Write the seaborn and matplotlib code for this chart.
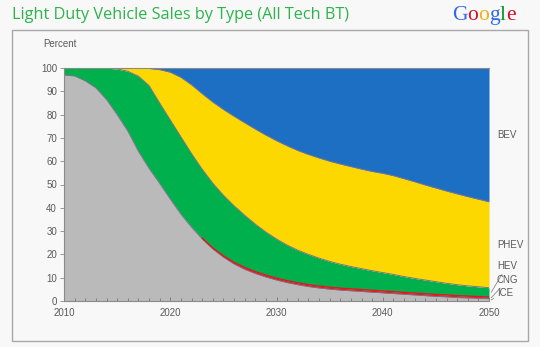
import numpy as np
import pandas as pd
import matplotlib
matplotlib.use("Agg")
import matplotlib.pyplot as plt
import seaborn as sns

# Light duty vehicle sales share by technology type, percent of sales
years = list(range(2010, 2051))
ice = [97.0, 96.6, 94.5, 91.5, 86.5, 80.0, 73.0, 64.3, 57.0, 50.5,
       43.8, 37.3, 31.7, 26.7, 22.35, 18.8, 15.9, 13.6, 11.8, 10.3,
       9.0, 7.9, 7.0, 6.2, 5.6, 5.1, 4.7, 4.4, 4.1, 3.8,
       3.5, 3.2, 2.9, 2.6, 2.3, 2.0, 1.8, 1.5, 1.35, 1.2, 1.0]
cng = [0.0, 0.0, 0.0, 0.0, 0.0, 0.0, 0.0, 0.0, 0.0, 0.0,
       0.0, 0.1, 0.2, 0.3, 0.45, 0.6, 0.7, 0.8, 0.8, 0.8,
       0.8, 0.8, 0.8, 0.8, 0.8, 0.8, 0.8, 0.8, 0.8, 0.8,
       0.8, 0.8, 0.8, 0.8, 0.8, 0.8, 0.8, 0.8, 0.75, 0.7, 0.7]
hev = [3.0, 3.4, 5.5, 8.5, 13.4, 19.6, 25.6, 32.2, 35.5, 34.5,
       33.9, 33.1, 31.4, 29.6, 27.8, 26.0, 24.3, 22.4, 20.4, 18.5,
       16.8, 15.3, 14.0, 13.0, 12.0, 11.1, 10.3, 9.6, 9.0, 8.4,
       7.9, 7.4, 6.8, 6.3, 5.9, 5.5, 5.0, 4.7, 4.4, 4.2, 4.0]
phev = [0.0, 0.0, 0.0, 0.0, 0.1, 0.4, 1.4, 3.5, 7.3, 14.3,
        20.5, 25.5, 29.5, 32.4, 34.8, 36.8, 38.4, 39.7, 40.8, 41.6,
        42.2, 42.6, 42.8, 42.9, 43.0, 43.0, 43.0, 42.9, 42.7, 42.6,
        42.6, 42.4, 42.0, 41.5, 40.8, 40.2, 39.6, 39.0, 38.3, 37.6, 36.9]
bev = [0.0, 0.0, 0.0, 0.0, 0.0, 0.0, 0.0, 0.0, 0.2, 0.7,
       1.8, 4.0, 7.2, 11.0, 14.6, 17.8, 20.7, 23.5, 26.2, 28.8,
       31.2, 33.4, 35.4, 37.1, 38.6, 40.0, 41.2, 42.3, 43.4, 44.4,
       45.2, 46.2, 47.5, 48.8, 50.2, 51.5, 52.8, 54.0, 55.2, 56.3, 57.4]

types = ["ICE", "CNG", "HEV", "PHEV", "BEV"]
colors = ["#bababa", "#e8141c", "#00b04c", "#fdd800", "#1d6fc4"]
x_ticks = [2010, 2020, 2030, 2040, 2050]
y_ticks = list(range(0, 101, 10))

df = pd.DataFrame({"year": years, "ICE": ice, "CNG": cng, "HEV": hev,
                   "PHEV": phev, "BEV": bev})

sns.set_theme(style="ticks")
plt.rcParams["font.family"] = ["Liberation Sans", "DejaVu Sans"]

BG = "#f8f8f8"
TXT = "#5a5a5a"
fig = plt.figure(figsize=(5.40, 3.47), dpi=100, facecolor=BG)
W, H = 540.0, 347.0

# outer panel frame
frame = plt.Rectangle((12 / W, 1 - 341 / H), 516 / W, 311 / H,
                      transform=fig.transFigure, facecolor="none",
                      edgecolor="#a8a8a8", linewidth=1.0, zorder=-1)
fig.patches.append(frame)

ax = fig.add_axes([64 / W, 1 - 301 / H, 425 / W, 233 / H])
ax.set_zorder(2)
ax.set_facecolor("none")
ax.set_axisbelow(False)

ax.stackplot(df["year"], [df[t] for t in types], colors=colors,
             linewidth=0, zorder=2)

# thin grey strokes along the band boundaries
cum = df[types].cumsum(axis=1)
for col in ["ICE", "HEV", "PHEV"]:
    sns.lineplot(x=df["year"], y=cum[col], ax=ax, color="#75758a",
                 linewidth=0.7, zorder=3)
cng_top = cum["CNG"].where(df["CNG"] >= 0.3)
sns.lineplot(x=df["year"], y=cng_top, ax=ax, color=colors[1],
             linewidth=1.0, zorder=4)

ax.set_xlim(2010, 2050)
ax.set_ylim(0, 100)
ax.set_xlabel("")
ax.set_ylabel("")
ax.set_xticks(x_ticks)
ax.set_xticks(years, minor=True)
ax.set_yticks(y_ticks)
ax.tick_params(axis="x", which="major", direction="in", length=3, width=0.6,
               color="#777777", labelsize=7, labelcolor=TXT, pad=5)
ax.tick_params(axis="x", which="minor", direction="in", length=2.5,
               width=0.6, color="#777777")
ax.tick_params(axis="y", direction="out", length=3, width=0.6,
               color="#888888", labelsize=7, labelcolor=TXT, pad=2)
for side in ["left", "bottom", "top"]:
    ax.spines[side].set_color("#8a8a8a")
    ax.spines[side].set_linewidth(0.8)
    ax.spines[side].set_zorder(5)
ax.spines["top"].set_visible(True)
ax.spines["right"].set_visible(False)

fig.text(43 / W, 1 - 44 / H, "Percent", fontsize=7, color=TXT,
         ha="left", va="center")

# series labels at the right end
last = cum.iloc[-1]
bev_mid = (last["PHEV"] + last["BEV"]) / 2
phev_mid = (last["HEV"] + last["PHEV"]) / 2
label_x = 2050.75
ax.text(label_x, bev_mid, "BEV", fontsize=7, color=TXT, va="center",
        ha="left", clip_on=False)
ax.text(label_x, phev_mid, "PHEV", fontsize=7, color=TXT, va="center",
        ha="left", clip_on=False)
small = {"HEV": 15.0, "CNG": 9.0, "ICE": 3.4}
starts = {"HEV": (last["CNG"] + last["HEV"]) / 2,
          "CNG": (last["ICE"] + last["CNG"]) / 2,
          "ICE": last["ICE"] / 2}
for name, ypos in small.items():
    ax.annotate(name, xy=(2050.2, starts[name]), xytext=(label_x, ypos),
                fontsize=7, color=TXT, va="center", ha="left",
                annotation_clip=False,
                arrowprops=dict(arrowstyle="-", color="#8a8a8a", lw=0.6,
                                shrinkA=0, shrinkB=0))

fig.text(12 / W, 1 - 15 / H, "Light Duty Vehicle Sales by Type (All Tech BT)",
         fontsize=11.7, color="#2db34a", family=["Open Sans", "DejaVu Sans"],
         ha="left", va="center")

# wordmark in the top right corner
renderer = fig.canvas.get_renderer()
gx = 452.0
for ch, c in zip("Google", ["#3369e8", "#d50f25", "#eeb211", "#3369e8",
                            "#009925", "#d50f25"]):
    t = fig.text(gx / W, 1 - 20 / H, ch, fontsize=15.5, color=c,
                 family=["Liberation Serif", "DejaVu Serif"],
                 ha="left", va="baseline")
    gx += t.get_window_extent(renderer).width

fig.savefig("out.png", dpi=100, facecolor=BG)
